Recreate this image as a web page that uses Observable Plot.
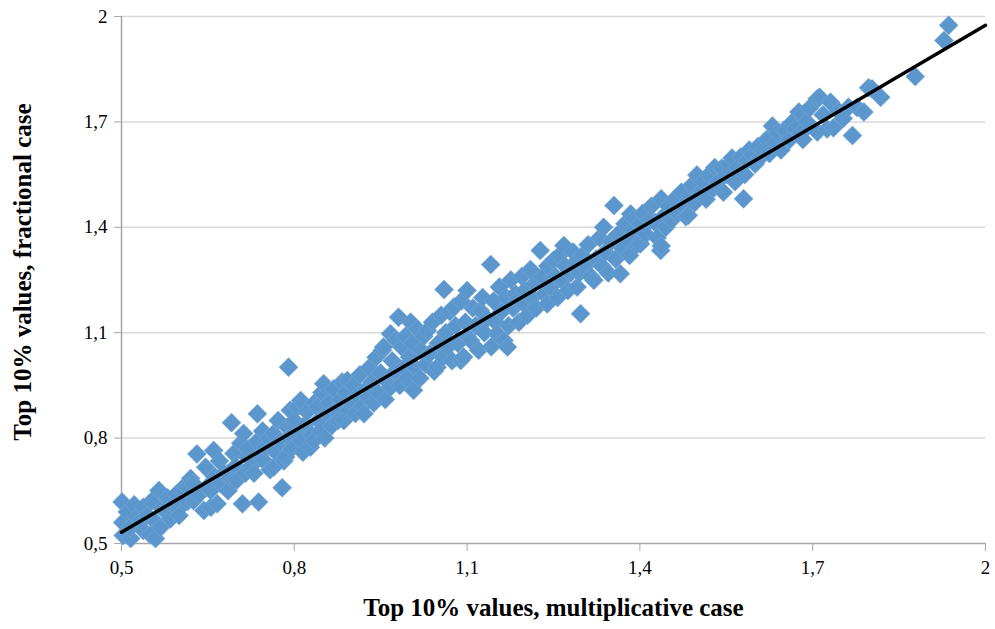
<!DOCTYPE html>
<html><head><meta charset="utf-8">
<script src="https://cdn.jsdelivr.net/npm/d3@7"></script>
<script src="https://cdn.jsdelivr.net/npm/@observablehq/plot@0.6"></script>
<style>html,body{margin:0;padding:0;background:#fff}</style>
</head><body><div id="chart"></div>
<script>
// x: Top 10% values, multiplicative case (one line per segment of the cloud)
const multiplicative = [
0.501,0.503,0.502,0.510,0.516,0.515,0.522,0.527,0.533,0.538,0.538,0.545,0.550,0.552,0.559,0.560,0.565,0.568,0.570,0.576,0.580,0.585,0.590,0.595,0.602,0.605,0.600,
0.614,0.615,0.620,0.625,0.625,0.631,0.635,0.643,0.646,0.648,0.655,0.655,0.660,0.662,0.666,0.670,0.672,0.678,0.683,0.685,0.691,0.694,0.695,0.698,0.700,
0.707,0.710,0.712,0.715,0.718,0.720,0.725,0.730,0.735,0.736,0.738,0.740,0.745,0.747,0.750,0.755,0.758,0.764,0.764,0.768,0.772,0.775,0.779,0.782,0.785,0.788,0.790,0.790,0.793,0.795,0.800,
0.805,0.808,0.811,0.811,0.815,0.820,0.822,0.828,0.830,0.834,0.835,0.840,0.842,0.845,0.848,0.851,0.853,0.857,0.860,0.865,0.868,0.872,0.876,0.880,0.883,0.886,0.890,0.892,0.895,0.900,
0.903,0.906,0.910,0.914,0.918,0.921,0.925,0.927,0.930,0.935,0.938,0.942,0.945,0.950,0.953,0.955,0.958,0.962,0.967,0.967,0.970,0.975,0.976,0.981,0.983,0.986,0.990,0.993,0.996,1.000,
1.002,1.005,1.007,1.010,1.014,1.018,1.020,1.025,1.028,1.031,1.035,1.040,1.043,1.048,1.050,1.055,1.058,1.060,1.063,1.067,1.070,1.074,1.077,1.080,1.084,1.089,1.090,1.094,1.097,1.100,1.100,
1.106,1.110,1.115,1.120,1.123,1.127,1.130,1.135,1.141,1.142,1.146,1.150,1.152,1.156,1.160,1.164,1.168,1.170,1.172,1.176,1.180,1.184,1.187,1.190,1.195,1.200,1.200,
1.205,1.210,1.213,1.217,1.220,1.227,1.230,1.234,1.239,1.240,1.245,1.250,1.253,1.257,1.260,1.264,1.268,1.270,1.275,1.280,1.284,1.288,1.291,1.295,1.297,1.300,
1.305,1.310,1.315,1.320,1.324,1.330,1.334,1.337,1.340,1.345,1.350,1.355,1.358,1.362,1.366,1.370,1.374,1.378,1.382,1.384,1.388,1.390,1.395,1.401,1.400,
1.405,1.410,1.418,1.420,1.426,1.430,1.436,1.437,1.437,1.440,1.445,1.450,1.455,1.460,1.465,1.472,1.475,1.480,1.484,1.487,1.490,1.495,1.499,
1.505,1.510,1.515,1.520,1.527,1.530,1.535,1.542,1.545,1.550,1.555,1.560,1.565,1.570,1.575,1.580,1.582,1.586,1.590,1.595,1.600,
1.605,1.610,1.615,1.620,1.625,1.630,1.635,1.640,1.645,1.650,1.654,1.660,1.665,1.670,1.676,1.679,1.683,1.683,1.690,1.695,
1.708,1.708,1.712,1.718,1.725,1.731,1.736,1.745,1.753,1.762,1.769,1.777,1.789,1.797,1.803,1.818,1.878,1.928,1.936
];
// y: Top 10% values, fractional case (same order)
const fractional = [
0.618,0.523,0.560,0.590,0.514,0.545,0.610,0.575,0.565,0.603,0.537,0.580,0.525,0.620,0.514,0.560,0.651,0.546,0.600,0.594,0.630,0.570,0.610,0.640,0.603,0.656,0.580,
0.660,0.620,0.685,0.622,0.670,0.755,0.640,0.594,0.717,0.660,0.651,0.603,0.765,0.690,0.613,0.735,0.670,0.700,0.698,0.650,0.844,0.679,0.756,0.720,0.680,
0.785,0.613,0.813,0.700,0.746,0.770,0.720,0.700,0.790,0.869,0.618,0.750,0.820,0.736,0.775,0.800,0.710,0.813,0.717,0.760,0.850,0.790,0.659,0.735,0.746,0.831,1.002,0.800,0.879,0.770,0.850,
0.888,0.810,0.793,0.907,0.760,0.840,0.875,0.774,0.810,0.793,0.900,0.888,0.850,0.820,0.930,0.955,0.800,0.870,0.900,0.835,0.940,0.880,0.850,0.910,0.960,0.850,0.930,0.964,0.880,0.900,
0.950,0.870,0.920,0.980,0.890,0.869,0.940,0.916,1.000,0.960,0.900,1.030,0.930,0.985,1.050,1.059,0.910,0.960,0.945,1.097,1.020,0.990,1.080,1.144,0.950,1.060,1.000,1.090,0.970,1.030,
1.130,1.070,0.936,1.000,1.110,0.970,1.050,1.090,1.010,1.106,1.040,1.130,0.990,1.002,1.070,1.150,1.030,1.223,1.100,1.060,1.160,1.020,1.173,1.120,1.070,1.021,1.190,1.031,1.130,1.220,1.090,
1.078,1.170,1.120,1.050,1.163,1.200,1.100,1.140,1.294,1.060,1.190,1.130,1.097,1.230,1.160,1.078,1.200,1.059,1.120,1.250,1.170,1.210,1.192,1.130,1.260,1.180,1.220,
1.150,1.280,1.200,1.240,1.170,1.334,1.260,1.210,1.182,1.290,1.230,1.306,1.260,1.200,1.320,1.250,1.348,1.290,1.220,1.270,1.330,1.300,1.230,1.270,1.154,1.320,
1.290,1.350,1.260,1.249,1.310,1.370,1.290,1.400,1.330,1.270,1.360,1.462,1.310,1.380,1.268,1.340,1.410,1.366,1.320,1.438,1.390,1.424,1.350,1.353,1.410,
1.440,1.380,1.419,1.460,1.414,1.370,1.334,1.481,1.347,1.430,1.400,1.460,1.420,1.480,1.440,1.500,1.460,1.430,1.434,1.490,1.520,1.470,1.549,
1.500,1.530,1.480,1.550,1.510,1.570,1.530,1.568,1.500,1.550,1.580,1.597,1.530,1.570,1.600,1.481,1.550,1.590,1.620,1.606,1.580,
1.630,1.600,1.620,1.650,1.610,1.688,1.640,1.670,1.620,1.676,1.674,1.650,1.700,1.680,1.728,1.667,1.722,1.650,1.700,1.740,
1.766,1.671,1.770,1.720,1.680,1.756,1.683,1.730,1.710,1.742,1.661,1.741,1.728,1.797,1.794,1.770,1.829,1.932,1.975
];
// trend line end points
const trendX = [0.5, 2.0];
const trendY = [0.532, 1.975];
// axes
const tickValues = [0.5, 0.8, 1.1, 1.4, 1.7, 2];
const tickLabels = ["0,5", "0,8", "1,1", "1,4", "1,7", "2"];
const xTitle = "Top 10% values, multiplicative case";
const yTitle = "Top 10% values, fractional case";

const points = multiplicative.map((x, i) => ({x, y: fractional[i]}));
const trend = trendX.map((x, i) => ({x, y: trendY[i]}));
const fmt = v => tickLabels[tickValues.findIndex(t => Math.abs(t - v) < 1e-9)];

// square rotated 45° (half-diagonal = r)
const diamond = {
  draw(ctx, size) {
    const r = Math.sqrt(size / Math.PI);
    ctx.moveTo(0, -r); ctx.lineTo(r, 0); ctx.lineTo(0, r); ctx.lineTo(-r, 0); ctx.closePath();
  }
};

const axisColor = "#a6a6a6";
const chart = Plot.plot({
  width: 995, height: 629,
  marginLeft: 121, marginRight: 10, marginTop: 16, marginBottom: 86,
  style: {fontFamily: "'Liberation Serif', 'Times New Roman', serif", fontSize: "19px", color: "#000", background: "#fff", overflow: "visible"},
  x: {domain: [0.5, 2], label: null},
  y: {domain: [0.5, 2], label: null},
  marks: [
    Plot.ruleY(tickValues.slice(1), {stroke: "#d9d9d9", strokeWidth: 1.5}),
    Plot.ruleX([0.5], {stroke: axisColor, strokeWidth: 1.5}),
    Plot.ruleY([0.5], {stroke: axisColor, strokeWidth: 1.5}),
    Plot.axisX({ticks: tickValues, tickFormat: fmt, tickSize: 8, tickPadding: 9, stroke: axisColor, fontSize: 19, label: null}),
    Plot.axisY({ticks: tickValues, tickFormat: fmt, tickSize: 7, tickPadding: 7, stroke: axisColor, fontSize: 19, label: null}),
    Plot.dot(points, {x: "x", y: "y", symbol: diamond, r: 9.5, fill: "#5b96cc", stroke: "#77a9d8", strokeWidth: 0.6}),
    Plot.line(trend, {x: "x", y: "y", stroke: "#000", strokeWidth: 3.5}),
    Plot.text([xTitle], {frameAnchor: "bottom", dy: 64, lineAnchor: "middle", textAnchor: "middle", fontWeight: "bold", fontSize: 25, fill: "#000"}),
    Plot.text([yTitle], {frameAnchor: "left", dx: -99, dy: -8, rotate: -90, lineAnchor: "middle", textAnchor: "middle", fontWeight: "bold", fontSize: 25, fill: "#000"})
  ]
});
document.getElementById("chart").appendChild(chart);
</script>
</body></html>
